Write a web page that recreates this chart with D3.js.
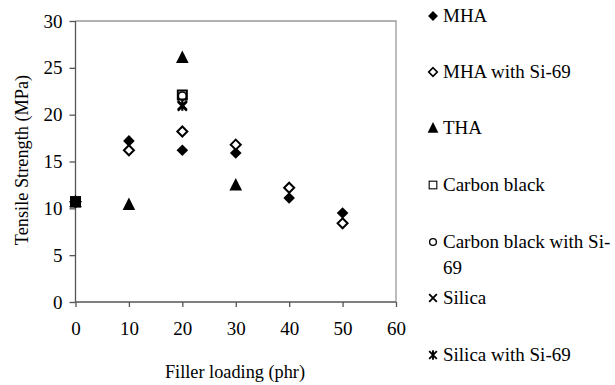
<!DOCTYPE html>
<html><head><meta charset="utf-8">
<script src="https://cdn.jsdelivr.net/npm/d3@7/dist/d3.min.js"></script>
<style>body{margin:0;background:#fff}svg{display:block}svg text{font-family:'Liberation Serif','Times New Roman','DejaVu Serif',serif !important;fill:#000}</style>
</head><body><svg id="c" width="615" height="385"></svg>
<script>
const xTicks = [0, 10, 20, 30, 40, 50, 60];
const yTicks = [0, 5, 10, 15, 20, 25, 30];
const seriesNames = ["MHA", "MHA with Si-69", "THA", "Carbon black", "Carbon black with Si-69", "Silica", "Silica with Si-69"];
const mhaX = [0, 10, 20, 30, 40, 50];
const mhaY = [10.7, 17.2, 16.2, 15.9, 11.1, 9.5];
const mhaSiX = [0, 10, 20, 30, 40, 50];
const mhaSiY = [10.7, 16.2, 18.2, 16.8, 12.2, 8.4];
const thaX = [0, 10, 20, 30];
const thaY = [10.7, 10.4, 26.1, 12.5];
const cbX = [0, 20];
const cbY = [10.7, 22.1];
const cbSiX = [0, 20];
const cbSiY = [10.7, 22.0];
const silX = [0, 20];
const silY = [10.7, 20.9];
const silSiX = [0, 20];
const silSiY = [10.7, 21.0];

const FONT = "'Liberation Serif','Times New Roman','DejaVu Serif',serif";
const svg = d3.select("#c");
const x = d3.scaleLinear().domain([0, 60]).range([75.5, 396]);
const y = d3.scaleLinear().domain([0, 30]).range([302, 21]);

svg.append("path").attr("d", `M${x(0)},${y(30)}H${x(60)}V${y(0)}`).attr("fill","none").attr("stroke","#999").attr("stroke-width",1.3);

const yAxis = svg.append("g").attr("transform",`translate(${x(0)},0)`)
  .call(d3.axisLeft(y).tickValues(yTicks).tickSize(6).tickPadding(7).tickFormat(d3.format("d")));
const xAxis = svg.append("g").attr("transform",`translate(0,${y(0)})`)
  .call(d3.axisBottom(x).tickValues(xTicks).tickSize(5).tickPadding(15).tickFormat(d3.format("d")));
[yAxis, xAxis].forEach(a => {
  a.attr("font-family", FONT).attr("font-size", 19);
  a.select(".domain").attr("stroke","#555").attr("stroke-width",1.3);
  a.selectAll(".tick line").attr("stroke","#555").attr("stroke-width",1.3);
  a.selectAll("text").style("font-family", FONT).style("font-size","19px");
});
xAxis.select(".domain").attr("d", `M${x(0)},0H${x(60)}`);
yAxis.select(".domain").attr("d", `M0,${y(0)}V${y(30)}`);

const markerFns = {
  fdiamond: (g) => g.append("path").attr("d","M0,-5.8L5.8,0L0,5.8L-5.8,0Z").attr("fill","#000"),
  odiamond: (g) => g.append("path").attr("d","M0,-5L5,0L0,5L-5,0Z").attr("fill","#fff").attr("stroke","#000").attr("stroke-width",2),
  triangle: (g) => g.append("path").attr("d","M0,-7L6.3,5.5L-6.3,5.5Z").attr("fill","#000"),
  osquare: (g) => g.append("rect").attr("x",-4.5).attr("y",-4.5).attr("width",9).attr("height",9).attr("fill","none").attr("stroke","#000").attr("stroke-width",2),
  ocircle: (g) => g.append("circle").attr("r",4).attr("fill","none").attr("stroke","#000").attr("stroke-width",1.6),
  cross: (g) => g.append("path").attr("d","M-4.5,-4.5L4.5,4.5M4.5,-4.5L-4.5,4.5").attr("stroke","#000").attr("stroke-width",2.2),
  star: (g) => g.append("path").attr("d","M-4.5,-4.5L4.5,4.5M4.5,-4.5L-4.5,4.5M0,-5.5V5.5").attr("stroke","#000").attr("stroke-width",2.2)
};
const series = [
  {name: seriesNames[0], xs: mhaX, ys: mhaY, m: "fdiamond"},
  {name: seriesNames[1], xs: mhaSiX, ys: mhaSiY, m: "odiamond"},
  {name: seriesNames[2], xs: thaX, ys: thaY, m: "triangle"},
  {name: seriesNames[3], xs: cbX, ys: cbY, m: "osquare"},
  {name: seriesNames[4], xs: cbSiX, ys: cbSiY, m: "ocircle"},
  {name: seriesNames[5], xs: silX, ys: silY, m: "cross"},
  {name: seriesNames[6], xs: silSiX, ys: silSiY, m: "star"}
];
series.forEach(s => {
  s.xs.forEach((xv, i) => {
    const g = svg.append("g").attr("transform", `translate(${x(xv)},${y(s.ys[i])})`);
    markerFns[s.m](g);
  });
});
svg.append("rect").attr("x", x(0)-5.5).attr("y", y(10.7)-5.5).attr("width",11).attr("height",11).attr("fill","#000");

const legY = [16, 72, 128, 185, 242, 298, 355];
series.forEach((s, i) => {
  const g = svg.append("g").attr("transform", `translate(433,${legY[i]})`);
  const mg = g.append("g").attr("transform","scale(0.85)");
  markerFns[s.m](mg);
  if (s.m === "osquare") mg.select("rect").attr("stroke-width",1.3);
  const t = g.append("text").attr("x",10).attr("y",6).style("font-family",FONT).style("font-size","19px");
  if (s.name === "Carbon black with Si-69") {
    t.append("tspan").text("Carbon black with Si-");
    t.append("tspan").attr("x",10).attr("dy",26).text("69");
  } else {
    t.text(s.name);
  }
});

svg.append("text").attr("x", 235).attr("y", 378).attr("text-anchor","middle").style("font-family",FONT).style("font-size","18.3px").text("Filler loading (phr)");
svg.append("text").attr("transform","translate(28,160) rotate(-90)").attr("text-anchor","middle").style("font-family",FONT).style("font-size","18.3px").text("Tensile Strength (MPa)");
</script></body></html>
